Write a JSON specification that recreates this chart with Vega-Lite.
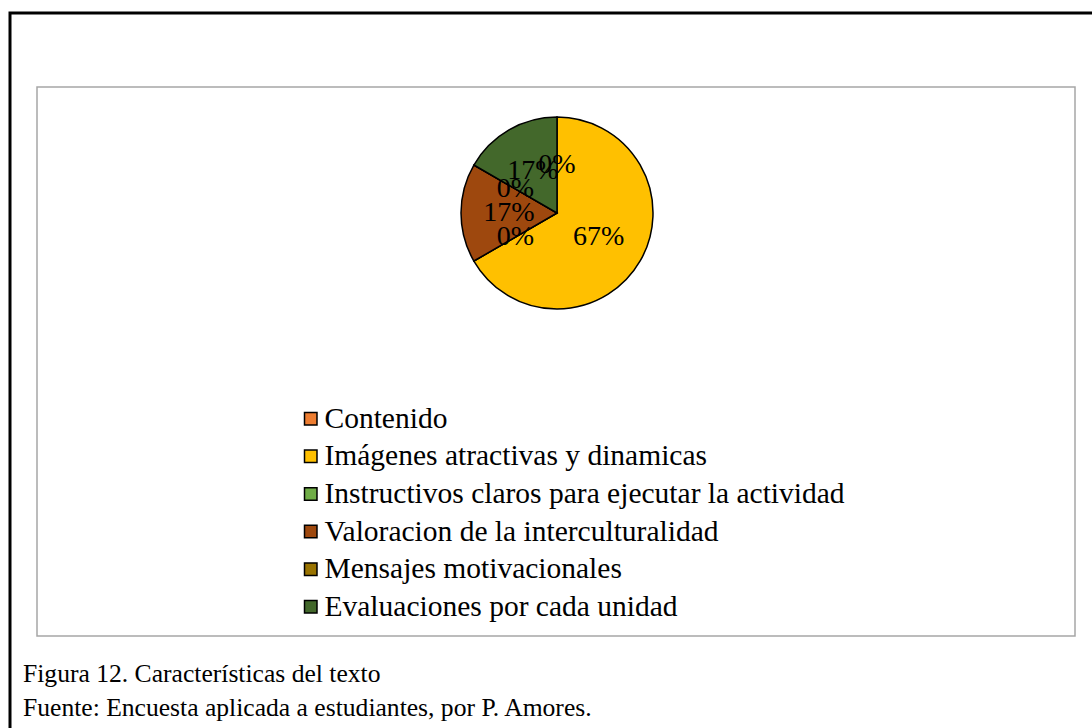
{
  "$schema": "https://vega.github.io/schema/vega-lite/v6.json",
  "width": 1038,
  "height": 549,
  "autosize": {"type": "none"},
  "padding": {"left": 37, "top": 87, "right": 17, "bottom": 92},
  "background": "white",
  "config": {"view": {"stroke": "#a6a6a6", "strokeWidth": 1.5}, "font": "Liberation Serif"},
  "title": {
    "text": "Figura 12. Características del texto",
    "subtitle": "Fuente: Encuesta aplicada a estudiantes, por P. Amores.",
    "orient": "bottom",
    "anchor": "start",
    "frame": "group",
    "dx": -14,
    "offset": -72,
    "font": "Liberation Serif",
    "fontSize": 25.6,
    "fontWeight": "normal",
    "color": "black",
    "subtitleFont": "Liberation Serif",
    "subtitleFontSize": 25.6,
    "subtitleColor": "black",
    "subtitlePadding": 8.4
  },
  "data": {
    "values": [
      {"cat": "Contenido", "value": 0, "ord": 1},
      {"cat": "Imágenes atractivas y dinamicas", "value": 0.6667, "ord": 2},
      {"cat": "Instructivos claros para ejecutar la actividad", "value": 0, "ord": 3},
      {"cat": "Valoracion de la interculturalidad", "value": 0.1667, "ord": 4},
      {"cat": "Mensajes motivacionales", "value": 0, "ord": 5},
      {"cat": "Evaluaciones por cada unidad", "value": 0.1667, "ord": 6}
    ]
  },
  "layer": [
    {
      "data": {"values": [{"frame": "outer"}]},
      "mark": {"type": "rect", "fill": "transparent", "stroke": "black", "strokeWidth": 3},
      "encoding": {
        "x": {"value": -27},
        "x2": {"value": 1075},
        "y": {"value": -74},
        "y2": {"value": 645}
      }
    },
    {
      "mark": {"type": "arc", "outerRadius": 96, "stroke": "black", "strokeWidth": 1.5},
      "encoding": {
        "theta": {"field": "value", "type": "quantitative", "stack": true},
        "order": {"field": "ord", "type": "quantitative"},
        "color": {
          "field": "cat",
          "type": "nominal",
          "scale": {
            "domain": ["Contenido", "Imágenes atractivas y dinamicas", "Instructivos claros para ejecutar la actividad", "Valoracion de la interculturalidad", "Mensajes motivacionales", "Evaluaciones por cada unidad"],
            "range": ["#ED7D31", "#FFC000", "#70AD47", "#9E480E", "#997300", "#43682B"]
          },
          "legend": {
            "orient": "none",
            "legendX": 259,
            "legendY": 317,
            "title": null,
            "padding": 0,
            "labelFont": "Liberation Serif",
            "labelFontSize": 29.5,
            "labelColor": "black",
            "labelLimit": 0,
            "labelOffset": -1,
            "symbolType": "square",
            "symbolSize": 156,
            "symbolStrokeColor": "black",
            "symbolStrokeWidth": 1.5,
            "symbolOpacity": 1,
            "rowPadding": 6.6
          }
        },
        "x": {"value": 520},
        "y": {"value": 126}
      }
    },
    {
      "mark": {"type": "text", "radius": 48, "font": "Liberation Serif", "fontSize": 28, "color": "black"},
      "encoding": {
        "theta": {"field": "value", "type": "quantitative", "stack": true},
        "order": {"field": "ord", "type": "quantitative"},
        "text": {"field": "value", "type": "quantitative", "format": ".0%"},
        "x": {"value": 520},
        "y": {"value": 126}
      }
    }
  ]
}
